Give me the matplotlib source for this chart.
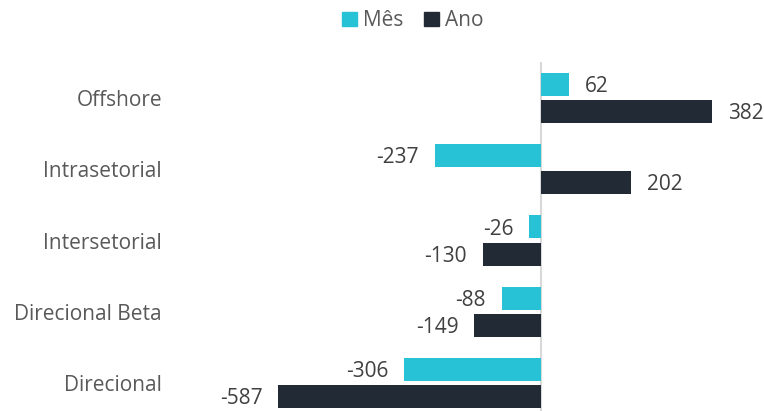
import numpy as np
import matplotlib.pyplot as plt
from matplotlib.patches import Patch

plt.rcParams['font.family'] = ['Open Sans', 'DejaVu Sans']

# data
categorias = ["Offshore", "Intrasetorial", "Intersetorial", "Direcional Beta", "Direcional"]
mes = [62, -237, -26, -88, -306]
ano = [382, 202, -130, -149, -587]

cor_mes = "#28C2D6"
cor_ano = "#222A35"

W, H = 764, 411
fig = plt.figure(figsize=(W / 100, H / 100), dpi=100)

# axes placed in pixel terms: zero line at x=541, 0.4476 px per unit
x0, sx = 541, 0.4476
y0, sy = 98, 71.25
left, right, top, bottom = 180, 764, 62, 411
ax = fig.add_axes([left / W, 1 - bottom / H, (right - left) / W, (bottom - top) / H])
ax.set_xlim((left - x0) / sx, (right - x0) / sx)
ax.set_ylim((bottom - y0) / sy, (top - y0) / sy)

pos = np.arange(len(categorias))
off = 0.19
h = 0.323
ax.barh(pos - off, mes, height=h, color=cor_mes, label="Mês")
ax.barh(pos + off, ano, height=h, color=cor_ano, label="Ano")

ax.axvline(0, color="#D9D9D9", lw=1.5, zorder=0)

for serie, d in ((mes, -off), (ano, off)):
    for i, v in enumerate(serie):
        ax.annotate(str(v), (v, i + d), xytext=(11.5 if v >= 0 else -11.5, -1.5),
                    textcoords="offset points", va="center",
                    ha="left" if v >= 0 else "right", fontsize=15, color="#404040")

ax.set_yticks(pos)
ax.set_yticklabels(categorias, fontsize=15, color="#595959")
ax.tick_params(axis="y", length=0, pad=13)
ax.set_xticks([])
for s in ax.spines.values():
    s.set_visible(False)

handles = [Patch(color=cor_mes, label="Mês"), Patch(color=cor_ano, label="Ano")]
leg = fig.legend(handles=handles, loc="center", bbox_to_anchor=(413 / W, 1 - 21 / H),
                 ncol=2, frameon=False, fontsize=15, handlelength=0.7, handleheight=0.7,
                 handletextpad=0.3, columnspacing=1.0)
for t in leg.get_texts():
    t.set_color("#595959")

fig.savefig("out.png", dpi=100)
